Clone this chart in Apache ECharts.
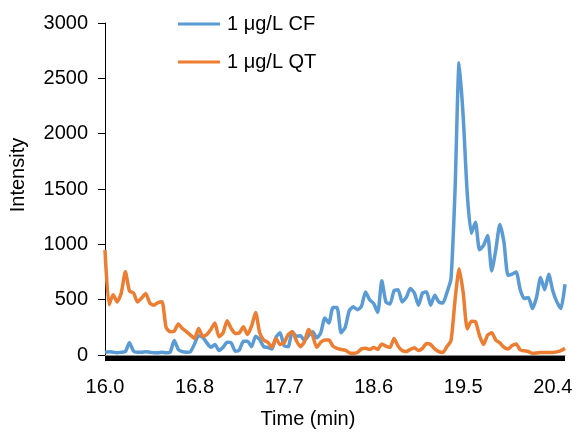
<!DOCTYPE html>
<html>
<head>
<meta charset="utf-8">
<script src="https://cdn.jsdelivr.net/npm/echarts@6/dist/echarts.min.js"></script>
<style>
html,body{margin:0;padding:0;background:#fff;}
#chart{width:577px;height:434px;}
</style>
</head>
<body>
<div id="chart"></div>
<script>
// Sampling of the time axis (min): one point every 0.04 min
var timeStart = 15.97;
var timeStep = 0.04;
var pointCount = 114;
var times = [];
for (var i = 0; i < pointCount; i++) { times.push((timeStart + i * timeStep).toFixed(2)); }

// Tick labels shown every 22 samples
var tickLabels = ['16.0', '16.8', '17.7', '18.6', '19.5', '20.4'];
var tickEvery = 22;

var seriesNames = ['1 μg/L CF', '1 μg/L QT'];

var cfValues = [
  25, 30, 25, 20, 25, 30, 110, 35, 25, 25,
  30, 25, 20, 20, 25, 20, 25, 130, 50, 30,
  25, 30, 100, 175, 160, 110, 70, 95, 40, 70,
  115, 110, 35, 45, 125, 125, 75, 170, 140, 75,
  68, 55, 160, 200, 85, 75, 210, 170, 175, 130,
  175, 210, 155, 200, 335, 290, 430, 430, 200, 250,
  400, 435, 410, 440, 570, 500, 465, 385, 670, 480,
  460, 580, 590, 480, 520, 600, 560, 450, 560, 570,
  450, 540, 480, 470, 565, 690, 1500, 2640, 2150, 1450,
  1100, 1200, 950, 990, 1080, 760, 950, 1180, 1020, 720,
  730, 750, 590, 510, 520, 420, 520, 700, 590, 730,
  580, 480, 420, 640
];

var qtValues = [
  950, 455, 545, 480, 560, 752, 580, 560, 480, 515,
  555, 470, 450, 473, 482, 250, 210, 215, 280, 240,
  212, 180, 150, 240, 170, 185, 230, 290, 165, 200,
  310, 240, 195, 200, 255, 185, 260, 385, 200, 135,
  115, 70, 150, 95, 110, 185, 210, 130, 75, 120,
  230, 175, 70, 115, 135, 135, 80, 60, 50, 45,
  20, 15, 23, 55, 62, 50, 68, 50, 100, 80,
  68, 150, 80, 40, 32, 50, 65, 40, 60, 105,
  95, 55, 30, 23, 77, 130, 500, 780, 560, 235,
  305, 300, 175, 95, 180, 200, 135, 110, 70, 55,
  85, 100, 45, 38, 32, 15, 18, 22, 23, 22,
  23, 28, 40, 60
];

var FONT = "'Liberation Sans', Arial, sans-serif";
var chart = echarts.init(document.getElementById('chart'));
chart.setOption({
  animation: false,
  backgroundColor: '#fff',
  textStyle: { fontFamily: FONT },
  grid: { left: 105, right: 12, top: 23, bottom: 76, containLabel: false },
  legend: {
    orient: 'vertical',
    left: 178,
    top: 14,
    padding: 0,
    itemWidth: 42,
    itemHeight: 3,
    itemGap: 18,
    icon: 'rect',
    textStyle: { fontFamily: FONT, fontSize: 20, color: '#000', padding: [0, 0, 0, 2] },
    data: seriesNames
  },
  xAxis: [
    {
      type: 'category',
      data: times,
      boundaryGap: false,
      position: 'bottom',
      axisLine: { show: true, lineStyle: { color: '#888', width: 1 } },
      axisTick: { show: false },
      splitLine: { show: false },
      axisLabel: {
        interval: tickEvery - 1,
        margin: 22,
        fontFamily: FONT,
        fontSize: 20,
        color: '#000',
        formatter: function (v, idx) { return tickLabels[Math.round(idx / tickEvery)] || ''; }
      },
      name: 'Time (min)',
      nameLocation: 'middle',
      nameGap: 54,
      nameTextStyle: { fontFamily: FONT, fontSize: 20, color: '#000', padding: [0, 54, 0, 0] }
    },
    {
      type: 'category',
      data: times,
      boundaryGap: false,
      position: 'bottom',
      offset: 3.5,
      axisLine: { show: true, lineStyle: { color: '#000', width: 5, cap: 'butt' } },
      axisTick: { show: false },
      axisLabel: { show: false },
      splitLine: { show: false }
    }
  ],
  yAxis: {
    type: 'value',
    min: 0,
    max: 3000,
    interval: 500,
    axisLine: { show: true, lineStyle: { color: '#000', width: 1 } },
    axisTick: { show: true, inside: false, length: 7, lineStyle: { color: '#000' } },
    splitLine: { show: false },
    axisLabel: { fontFamily: FONT, fontSize: 20, color: '#000', margin: 17, formatter: function (v) { return String(v); } },
    name: 'Intensity',
    nameLocation: 'middle',
    nameGap: 77,
    nameRotate: 90,
    nameTextStyle: { fontFamily: FONT, fontSize: 20, color: '#000', padding: [0, 0, 0, 28] }
  },
  series: [
    {
      name: seriesNames[0],
      type: 'line',
      data: cfValues,
      symbol: 'none',
      smooth: 0.2,
      lineStyle: { color: '#5B9BD5', width: 3.5 },
      itemStyle: { color: '#5B9BD5' }
    },
    {
      name: seriesNames[1],
      type: 'line',
      data: qtValues,
      symbol: 'none',
      smooth: 0.2,
      lineStyle: { color: '#ED7D31', width: 3.5 },
      itemStyle: { color: '#ED7D31' }
    }
  ]
});
</script>
</body>
</html>
